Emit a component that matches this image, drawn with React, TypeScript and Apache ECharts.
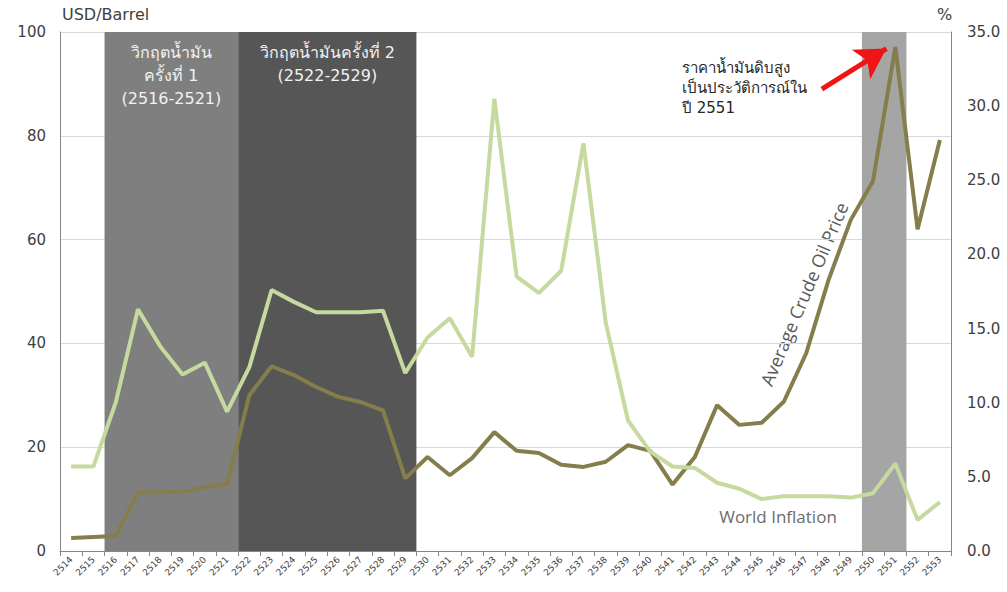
import React, { useEffect, useRef } from "react";
import * as echarts from "echarts";

const years = [
  "2514", "2515", "2516", "2517", "2518", "2519", "2520", "2521", "2522", "2523",
  "2524", "2525", "2526", "2527", "2528", "2529", "2530", "2531", "2532", "2533",
  "2534", "2535", "2536", "2537", "2538", "2539", "2540", "2541", "2542", "2543",
  "2544", "2545", "2546", "2547", "2548", "2549", "2550", "2551", "2552", "2553",
];

// USD/Barrel (left axis)
const oilPrice = [
  2.5, 2.7, 2.9, 11.3, 11.3, 11.4, 12.3, 12.9, 30.0, 35.6,
  33.9, 31.6, 29.7, 28.7, 27.1, 14.0, 18.1, 14.6, 17.9, 22.9,
  19.3, 18.9, 16.6, 16.2, 17.2, 20.4, 19.3, 12.8, 18.1, 28.1,
  24.3, 24.7, 28.8, 38.1, 52.2, 63.8, 71.3, 97.1, 62.0, 79.2,
];

// % (right axis)
const worldInflation = [
  5.7, 5.7, 10.0, 16.3, 13.8, 11.9, 12.7, 9.4, 12.4, 17.6,
  16.8, 16.1, 16.1, 16.1, 16.2, 12.0, 14.4, 15.7, 13.1, 30.5,
  18.5, 17.4, 18.9, 27.5, 15.4, 8.8, 6.7, 5.7, 5.6, 4.6,
  4.2, 3.5, 3.7, 3.7, 3.7, 3.6, 3.9, 5.9, 2.1, 3.3,
];

const leftMax = 100;
const leftStep = 20;
const rightMax = 35;
const rightStep = 5;

const crisisBands = [
  { from: "2516", to: "2521", label: "วิกฤตน้ำมัน\nครั้งที่ 1\n(2516-2521)", color: "#7f7f7f" },
  { from: "2522", to: "2529", label: "วิกฤตน้ำมันครั้งที่ 2\n(2522-2529)", color: "#565656" },
  { from: "2550", to: "2551", label: "", color: "#a5a5a5" },
];

const noteText = "ราคาน้ำมันดิบสูง\nเป็นประวัติการณ์ใน\nปี 2551";
// arrow from the note to the 2551 peak, in (category position, USD/Barrel)
const arrowFrom = [34.2, 89.0];
const arrowTo = [37.1, 96.8];

const FONT = "Tahoma, 'DejaVu Sans', 'Noto Sans', sans-serif";

export default function App() {
  const ref = useRef<HTMLDivElement>(null);

  useEffect(() => {
    if (!ref.current) return;
    const chart = echarts.init(ref.current, undefined, { renderer: "svg" });
    const idx = (y: string) => years.indexOf(y);

    const option: any = {
      animation: false,
      backgroundColor: "#ffffff",
      textStyle: { fontFamily: FONT },
      grid: { left: 60, right: 56, top: 32, bottom: 41, containLabel: false },
      xAxis: [
        {
          type: "category",
          data: years,
          boundaryGap: true,
          axisLine: { lineStyle: { color: "#868686", width: 1 } },
          axisTick: { show: true, length: 5, lineStyle: { color: "#868686" } },
          axisLabel: {
            interval: 0,
            rotate: 45,
            fontSize: 9,
            color: "#404040",
            margin: 7,
            fontFamily: FONT,
          },
          splitLine: { show: false },
        },
        {
          type: "value",
          min: 0,
          max: years.length,
          show: false,
        },
      ],
      yAxis: [
        {
          type: "value",
          min: 0,
          max: leftMax,
          interval: leftStep,
          axisLine: { show: true, lineStyle: { color: "#868686" } },
          axisTick: { show: false },
          axisLabel: { fontSize: 15, color: "#404040", margin: 14, fontFamily: FONT },
          splitLine: { show: true, lineStyle: { color: "#d9d9d9", width: 1 } },
        },
        {
          type: "value",
          min: 0,
          max: rightMax,
          interval: rightStep,
          position: "right",
          axisLine: { show: true, lineStyle: { color: "#868686" } },
          axisTick: { show: false },
          axisLabel: {
            fontSize: 15,
            color: "#404040",
            margin: 16,
            fontFamily: FONT,
            formatter: (v: number) => v.toFixed(1),
          },
          splitLine: { show: false },
        },
      ],
      series: [
        {
          name: "bands",
          type: "line",
          xAxisIndex: 1,
          yAxisIndex: 0,
          data: [],
          z: 1,
          silent: true,
          markArea: {
            silent: true,
            data: crisisBands.map((b) => [
              {
                xAxis: idx(b.from),
                itemStyle: { color: b.color, opacity: 1 },
                label: {
                  show: b.label !== "",
                  formatter: b.label,
                  position: "insideTop",
                  distance: 9,
                  color: "#f2f2f2",
                  fontSize: 16,
                  lineHeight: 23,
                  align: "center",
                  fontFamily: FONT,
                },
              },
              { xAxis: idx(b.to) + 1 },
            ]),
          },
          markLine: {
            silent: true,
            symbol: ["none", "arrow"],
            symbolSize: [26, 30],
            lineStyle: { color: "#f01414", width: 5, type: "solid" },
            label: { show: false },
            data: [[{ coord: arrowFrom }, { coord: arrowTo }]],
          },
        },
        {
          name: "Average Crude Oil Price",
          type: "line",
          xAxisIndex: 0,
          yAxisIndex: 0,
          data: oilPrice,
          showSymbol: false,
          symbol: "none",
          z: 3,
          lineStyle: { color: "#857d4c", width: 4 },
        },
        {
          name: "World Inflation",
          type: "line",
          xAxisIndex: 0,
          yAxisIndex: 1,
          data: worldInflation,
          showSymbol: false,
          symbol: "none",
          z: 4,
          lineStyle: { color: "#c6d99f", width: 4 },
        },
      ],
      graphic: [
        {
          type: "text",
          left: 62,
          top: 6,
          style: { text: "USD/Barrel", fontSize: 16, fill: "#404040", fontFamily: FONT },
        },
        {
          type: "text",
          left: 937,
          top: 6,
          style: { text: "%", fontSize: 16, fill: "#404040", fontFamily: FONT },
        },
        {
          type: "text",
          x: 682,
          y: 58,
          style: {
            text: noteText,
            fontSize: 15,
            lineHeight: 20,
            fill: "#262626",
            fontFamily: FONT,
            textAlign: "left",
            textVerticalAlign: "top",
          },
        },
        {
          type: "text",
          x: 804,
          y: 294,
          rotation: (67 * Math.PI) / 180,
          style: {
            text: "Average Crude Oil Price",
            fontSize: 18,
            fill: "#595959",
            fontFamily: "'Open Sans', 'Noto Sans', sans-serif",
            textAlign: "center",
            textVerticalAlign: "middle",
          },
        },
        {
          type: "text",
          x: 778,
          y: 516,
          style: {
            text: "World Inflation",
            fontSize: 17,
            fill: "#6b6b6b",
            fontFamily: "'Open Sans', 'Noto Sans', sans-serif",
            textAlign: "center",
            textVerticalAlign: "middle",
          },
        },
      ],
    };

    chart.setOption(option);
    return () => chart.dispose();
  }, []);

  return (
    <div
      ref={ref}
      style={{ position: "fixed", left: 0, top: 0, width: 1007, height: 592 }}
    />
  );
}
